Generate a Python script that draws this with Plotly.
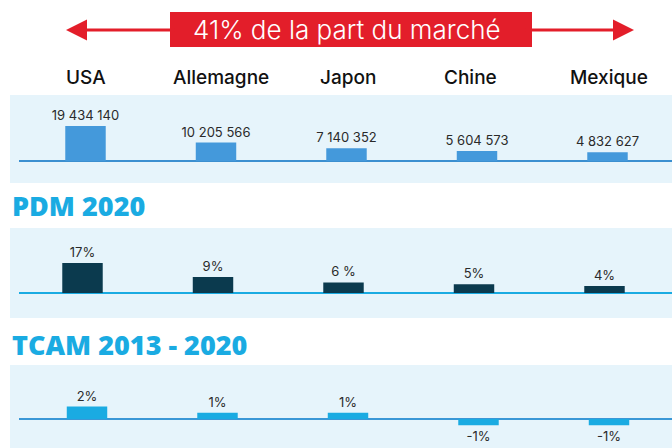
import plotly.graph_objects as go

# --- data ---------------------------------------------------------------
pays = ["USA", "Allemagne", "Japon", "Chine", "Mexique"]
production = [19434140, 10205566, 7140352, 5604573, 4832627]
pdm_2020 = [17, 9, 6, 5, 4]
pdm_labels = ["17%", "9%", "6 %", "5%", "4%"]
tcam_2013_2020 = [2, 1, 1, -1, -1]
banner_text = "41% de la part du marché"
titre_pdm = "PDM 2020"
titre_tcam = "TCAM 2013 - 2020"

W, H = 672, 448


def fmt_espaces(v):
    return f"{v:,}".replace(",", " ")


def pct(v):
    return f"{v}%"


def px_x_range(center0, step):
    # category index range spanning the full figure width
    return [(0 - center0) / step, (W - center0) / step]


def py(y):
    return 1 - y / H


STEP = 130.5
BLEU_FOND = "#e6f4fb"
ROUGE = "#e31e2a"
CYAN = "#1aabe2"

fig = go.Figure()

fig.add_trace(go.Bar(
    x=pays, y=production, xaxis="x", yaxis="y",
    marker=dict(color="#4499db", line=dict(width=0)), width=0.31,
    text=[fmt_espaces(v) for v in production], textposition="outside",
    textfont=dict(family="Inter", size=13, color="#2a2a2a"),
    cliponaxis=False, constraintext="none", hoverinfo="skip",
))
fig.add_trace(go.Bar(
    x=pays, y=pdm_2020, xaxis="x2", yaxis="y2",
    marker=dict(color="#0b3a4e", line=dict(width=0)), width=0.31,
    text=pdm_labels, textposition="outside",
    textfont=dict(family="Inter", size=13, color="#2a2a2a"),
    cliponaxis=False, constraintext="none", hoverinfo="skip",
))
fig.add_trace(go.Bar(
    x=pays, y=tcam_2013_2020, xaxis="x3", yaxis="y3",
    marker=dict(color=CYAN, line=dict(width=0)), width=0.31,
    text=[pct(v) for v in tcam_2013_2020], textposition="outside",
    textfont=dict(family="Inter", size=13, color="#2a2a2a"),
    cliponaxis=False, constraintext="none", hoverinfo="skip",
))

hidden = dict(showgrid=False, zeroline=False, showticklabels=False, ticks="", showline=False)

# panel 1: background y 95..183, baseline at 161, 35 px for the USA bar
s1 = 35 / production[0]
# panel 2: background y 228..318, baseline at 293, 30 px for 17 %
s2 = 30 / pdm_2020[0]
# panel 3: background y 365..448, baseline at 419
s3 = 6.25

fig.update_layout(
    width=W, height=H, margin=dict(l=0, r=0, t=0, b=0),
    paper_bgcolor="white", plot_bgcolor="rgba(0,0,0,0)",
    showlegend=False, barmode="relative",
    xaxis=dict(domain=[0, 1], range=px_x_range(85.5, STEP), anchor="y", **hidden),
    yaxis=dict(domain=[py(183), py(95)], range=[-(183 - 161) / s1, (161 - 95) / s1], anchor="x", **hidden),
    xaxis2=dict(domain=[0, 1], range=px_x_range(82.5, STEP), anchor="y2", **hidden),
    yaxis2=dict(domain=[py(318), py(228)], range=[-(318 - 293) / s2, (293 - 228) / s2], anchor="x2", **hidden),
    xaxis3=dict(domain=[0, 1], range=px_x_range(87, STEP), anchor="y3", **hidden),
    yaxis3=dict(domain=[py(448), py(365)], range=[-(448 - 419) / s3, (419 - 365) / s3], anchor="x3", **hidden),
)

shapes = []
# light blue panel backgrounds
for y0, y1 in [(95, 183), (228, 318), (365, 448)]:
    shapes.append(dict(type="rect", xref="paper", yref="paper",
                       x0=10 / W, x1=1, y0=py(y1), y1=py(y0),
                       fillcolor=BLEU_FOND, line=dict(width=0), layer="below"))
# baselines
for yref, col in [("y", "#3b8fd0"), ("y2", CYAN), ("y3", "#3a97d6")]:
    shapes.append(dict(type="line", xref="paper", yref=yref,
                       x0=19 / W, x1=1, y0=0, y1=0,
                       line=dict(color=col, width=2), layer="below"))
# red banner box
shapes.append(dict(type="rect", xref="paper", yref="paper",
                   x0=170 / W, x1=532 / W, y0=py(47), y1=py(12),
                   fillcolor=ROUGE, line=dict(width=0)))
fig.update_layout(shapes=shapes)

ann = []
# double arrow around the banner
ann.append(dict(xref="paper", yref="paper", x=66 / W, y=py(30), ax=110, ay=0,
                text="", showarrow=True, arrowhead=2, arrowsize=1.4,
                arrowwidth=3, arrowcolor=ROUGE))
ann.append(dict(xref="paper", yref="paper", x=634 / W, y=py(30), ax=-110, ay=0,
                text="", showarrow=True, arrowhead=2, arrowsize=1.4,
                arrowwidth=3, arrowcolor=ROUGE))
ann.append(dict(xref="paper", yref="paper", x=347 / W, y=py(29), text=banner_text,
                xanchor="center", yanchor="middle", showarrow=False,
                font=dict(family="Inter", size=26, color="white", weight=300)))
# country headers
for p, xc in zip(pays, [86, 221, 348, 470, 609]):
    ann.append(dict(xref="paper", yref="paper", x=xc / W, y=py(77), text=p,
                    xanchor="center", yanchor="middle", showarrow=False,
                    font=dict(family="Inter", size=19, color="#111111", weight=500)))
# section titles
ann.append(dict(xref="paper", yref="paper", x=10 / W, y=py(205), text=titre_pdm,
                xanchor="left", yanchor="middle", showarrow=False,
                font=dict(family="Open Sans", size=27, color=CYAN, weight=800)))
ann.append(dict(xref="paper", yref="paper", x=10 / W, y=py(344), text=titre_tcam,
                xanchor="left", yanchor="middle", showarrow=False,
                font=dict(family="Open Sans", size=27, color=CYAN, weight=800)))
fig.update_layout(annotations=ann)

fig.write_html("out.html")
